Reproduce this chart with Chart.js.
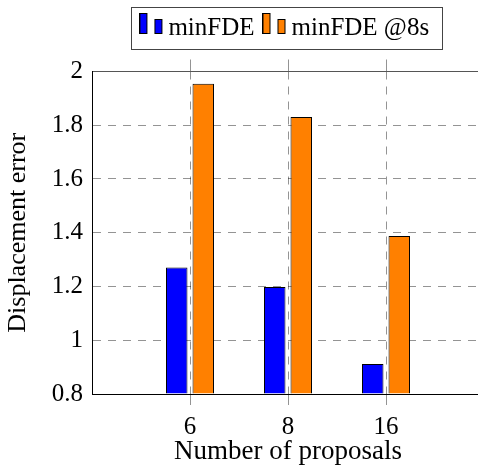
<!DOCTYPE html>
<html>
<head>
<meta charset="utf-8">
<script src="https://cdn.jsdelivr.net/npm/chart.js@4.4.1/dist/chart.umd.min.js"></script>
<style>
  html, body { margin: 0; padding: 0; background: #fff; overflow: hidden; }
  canvas { display: block; }
</style>
</head>
<body>
<canvas id="chart" width="484" height="470"></canvas>
<script>
// data
const proposals = ['6', '8', '16'];
const minFDE = [1.271, 1.198, 0.912];
const minFDE8s = [1.954, 1.831, 1.388];
const yTicks = [0.8, 1, 1.2, 1.4, 1.6, 1.8, 2];

const serif = "'Liberation Serif', 'DejaVu Serif', serif";
const gridGray = 'rgba(0, 0, 0, 0.42)';

// pgfplots style legend icon: two small bars
function barIcon(color) {
  const c = document.createElement('canvas');
  c.width = 24;
  c.height = 32;
  const g = c.getContext('2d');
  g.fillStyle = color;
  g.strokeStyle = '#000';
  g.lineWidth = 1;
  g.fillRect(0.5, 1.5, 7, 20);
  g.strokeRect(0.5, 1.5, 7, 20);
  g.fillRect(15.5, 7.5, 7, 14);
  g.strokeRect(15.5, 7.5, 7, 14);
  return c;
}

const pointsOf = vals => vals.map((v, i) => ({ x: i, y: v }));
const categoryTicks = scale => { scale.ticks = proposals.map((p, i) => ({ value: i })); };

// box around the legend like pgfplots draws it
const legendFrame = {
  id: 'legendFrame',
  afterDraw(chart) {
    const boxes = chart.legend && chart.legend.legendHitBoxes;
    if (!boxes || !boxes.length) return;
    const first = boxes[0];
    const last = boxes[boxes.length - 1];
    const cy = first.top + first.height / 2;
    const ctx = chart.ctx;
    ctx.save();
    ctx.strokeStyle = '#444';
    ctx.lineWidth = 1;
    const left = Math.round(first.left - 16) + 0.5;
    const right = Math.round(last.left + last.width + 13) + 0.5;
    ctx.strokeRect(left, Math.round(cy - 21) + 0.5, right - left, 42);
    ctx.restore();
  }
};

new Chart(document.getElementById('chart'), {
  type: 'bar',
  data: {
    datasets: [
      {
        label: 'minFDE',
        data: pointsOf(minFDE),
        backgroundColor: '#0000ff',
        borderColor: '#000',
        borderWidth: 1,
        borderSkipped: 'start',
        base: 0.8,
        pointStyle: barIcon('#0000ff')
      },
      {
        label: 'minFDE @8s',
        data: pointsOf(minFDE8s),
        backgroundColor: '#ff8000',
        borderColor: '#000',
        borderWidth: 1,
        borderSkipped: 'start',
        base: 0.8,
        pointStyle: barIcon('#ff8000')
      }
    ]
  },
  options: {
    responsive: false,
    animation: false,
    categoryPercentage: 0.541,
    barPercentage: 0.81,
    layout: { padding: 0 },
    plugins: {
      tooltip: { enabled: false },
      legend: {
        position: 'top',
        fullSize: false,
        labels: {
          usePointStyle: true,
          pointStyleWidth: 9,
          padding: 15.5,
          color: '#000',
          font: { family: serif, size: 25 }
        }
      }
    },
    scales: {
      x: {
        type: 'linear',
        position: 'bottom',
        min: -1,
        max: 3,
        offset: false,
        afterBuildTicks: categoryTicks,
        afterFit: s => { s.height = 76; },
        ticks: {
          color: '#000',
          padding: 7,
          font: { family: serif, size: 25 },
          callback: v => proposals[v]
        },
        grid: { offset: false, color: gridGray, drawTicks: true, tickLength: 11 },
        border: { color: '#000', dash: [8, 7] },
        title: {
          display: true,
          text: 'Number of proposals',
          color: '#000',
          font: { family: serif, size: 27 },
          padding: { top: 0, bottom: 2 }
        }
      },
      xTop: {
        type: 'linear',
        position: 'top',
        min: -1,
        max: 3,
        offset: false,
        afterBuildTicks: categoryTicks,
        afterFit: s => { s.height = 21; },
        ticks: { display: false },
        grid: { offset: false, color: gridGray, drawOnChartArea: false, drawTicks: true, tickLength: 12 },
        border: { color: '#555' }
      },
      y: {
        min: 0.8,
        max: 2,
        beginAtZero: false,
        afterBuildTicks: s => { s.ticks = yTicks.map(v => ({ value: v })); },
        afterFit: s => { s.width = 92; },
        ticks: {
          color: '#000',
          padding: 9,
          font: { family: serif, size: 25 },
          callback: v => String(Number(v.toFixed(1)))
        },
        grid: { color: gridGray, drawTicks: false },
        border: { color: '#000', dash: [8, 7] },
        title: {
          display: true,
          text: 'Displacement error',
          color: '#000',
          font: { family: serif, size: 26 },
          padding: { top: 3, bottom: 0 }
        }
      }
    }
  },
  plugins: [legendFrame]
});
</script>
</body>
</html>
